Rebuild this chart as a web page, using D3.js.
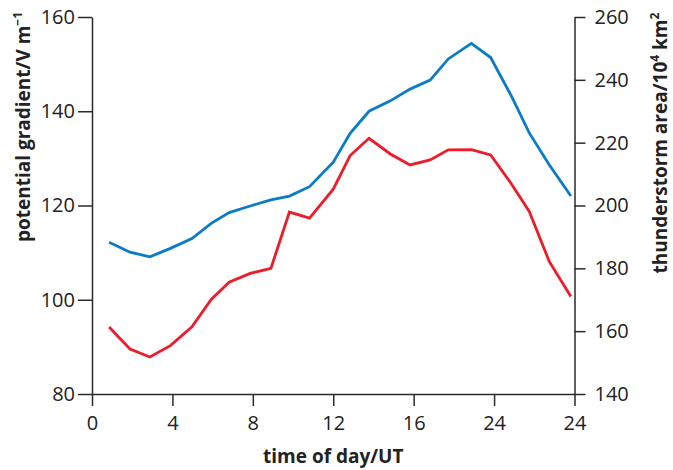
<!DOCTYPE html>
<html>
<head>
<meta charset="utf-8">
<script src="https://cdn.jsdelivr.net/npm/d3@7"></script>
<style>
  body { margin: 0; background: #fff; }
  text { font-family: "Open Sans", "Noto Sans", sans-serif; fill: #222; }
  .axis path, .axis line { stroke: #2a2a2a; stroke-width: 1.5; }
  .axis text { font-size: 20px; fill: #222; font-family: "Open Sans", sans-serif; }
  .axisTitle { font-size: 19px; font-weight: bold; }
</style>
</head>
<body>
<div id="chart"></div>
<script>
var svgWidth = 673;
var svgHeight = 470;

var margin = { top: 17, right: 98.5, bottom: 76, left: 92 };
var width = svgWidth - margin.left - margin.right;
var height = svgHeight - margin.top - margin.bottom;

// Data
var hours = [0.85, 1.89, 2.88, 3.9, 4.97, 5.93, 6.82, 7.87, 8.9, 9.82, 10.82, 12.0,
             12.84, 13.78, 14.84, 15.82, 16.82, 17.72, 18.87, 19.83, 20.84, 21.75, 22.75, 23.82];
var potentialGradient = [112.2, 110.1, 109.1, 110.9, 113.0, 116.2, 118.5, 119.9, 121.2, 122.0, 124.0, 129.2,
                         135.3, 140.0, 142.2, 144.7, 146.6, 151.1, 154.4, 151.4, 143.4, 135.4, 128.6, 122.0];
var thunderstormArea = [161.3, 154.3, 151.8, 155.4, 161.4, 170.1, 175.6, 178.4, 180.0, 197.9, 196.0, 205.2,
                        215.9, 221.4, 216.4, 212.9, 214.5, 217.7, 217.8, 216.1, 207.1, 198.1, 182.1, 171.0];
var xTickValues = [0, 4, 8, 12, 16, 20, 24];
var xTickLabels = ["0", "4", "8", "12", "16", "24", "24"];
var leftTicks = [80, 100, 120, 140, 160];
var rightTicks = [140, 160, 180, 200, 220, 240, 260];

var svg = d3.select("#chart")
    .append("svg")
    .attr("width", svgWidth)
    .attr("height", svgHeight);

var chartGroup = svg.append("g")
    .attr("transform", `translate(${margin.left}, ${margin.top})`);

// Scales
var xScale = d3.scaleLinear().domain([0, 24]).range([0, width]);
var yLeft = d3.scaleLinear().domain([80, 160]).range([height, 0]);
var yRight = d3.scaleLinear().domain([140, 260]).range([height, 0]);

// Axes
var bottomAxis = d3.axisBottom(xScale)
    .tickValues(xTickValues)
    .tickFormat((d, i) => xTickLabels[i])
    .tickSize(12).tickPadding(10).tickSizeOuter(0);
var leftAxis = d3.axisLeft(yLeft)
    .tickValues(leftTicks).tickSize(14).tickPadding(3).tickSizeOuter(0);
var rightAxis = d3.axisRight(yRight)
    .tickValues(rightTicks).tickSize(11).tickPadding(9).tickSizeOuter(0);

chartGroup.append("g")
    .attr("class", "axis")
    .attr("transform", `translate(0, ${height})`)
    .call(bottomAxis);

chartGroup.append("g")
    .attr("class", "axis")
    .call(leftAxis);

chartGroup.append("g")
    .attr("class", "axis")
    .attr("transform", `translate(${width}, 0)`)
    .call(rightAxis);

// Lines
var blueLine = d3.line()
    .x((d, i) => xScale(hours[i]))
    .y(d => yLeft(d));
var redLine = d3.line()
    .x((d, i) => xScale(hours[i]))
    .y(d => yRight(d));

chartGroup.append("path")
    .datum(potentialGradient)
    .attr("d", blueLine)
    .attr("fill", "none")
    .attr("stroke", "#0a7cc6")
    .attr("stroke-width", 2.8);

chartGroup.append("path")
    .datum(thunderstormArea)
    .attr("d", redLine)
    .attr("fill", "none")
    .attr("stroke", "#ec1c2a")
    .attr("stroke-width", 2.8);

// Axis titles
chartGroup.append("text")
    .attr("class", "axisTitle")
    .attr("text-anchor", "middle")
    .attr("x", width / 2)
    .attr("y", height + 69)
    .text("time of day/UT");

var leftTitle = svg.append("text")
    .attr("class", "axisTitle")
    .attr("text-anchor", "middle")
    .attr("transform", `translate(30, 127) rotate(-90)`);
leftTitle.append("tspan").text("potential gradient/V m");
leftTitle.append("tspan").attr("dy", -8).attr("font-size", 12).text("−1");

var rightTitle = svg.append("text")
    .attr("class", "axisTitle")
    .attr("text-anchor", "middle")
    .attr("font-size", 18.5)
    .attr("transform", `translate(667, 143) rotate(-90)`);
rightTitle.append("tspan").text("thunderstorm area/10");
rightTitle.append("tspan").attr("dy", -8).attr("font-size", 12).text("4");
rightTitle.append("tspan").attr("dy", 8).text(" km");
rightTitle.append("tspan").attr("dy", -8).attr("font-size", 12).text("2");
</script>
</body>
</html>
